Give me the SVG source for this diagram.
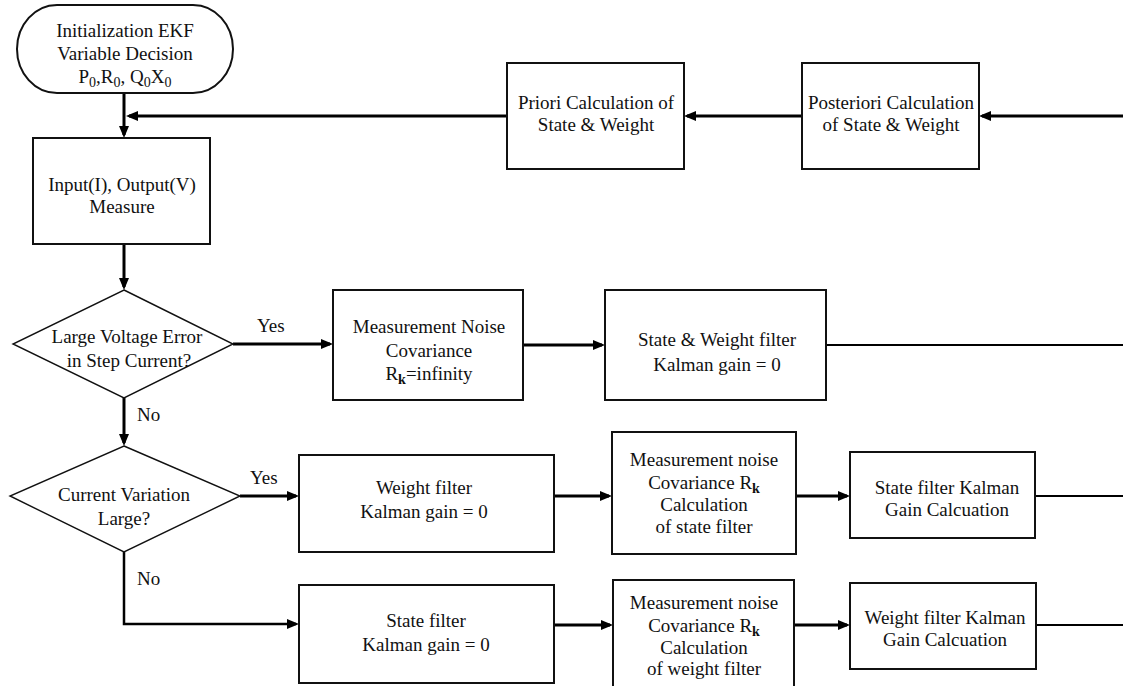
<svg xmlns="http://www.w3.org/2000/svg" width="1123" height="686" viewBox="0 0 1123 686">
<defs>
<marker id="ah" markerUnits="userSpaceOnUse" markerWidth="13" markerHeight="11" refX="9" refY="5" orient="auto">
<path d="M0,0 L12,5 L0,10 z" fill="#000"/>
</marker>
<style>
.bx{fill:#fff;stroke:#111;stroke-width:2}
.dm{fill:#fff;stroke:#111;stroke-width:1.4}
.t{text-anchor:middle}
.c{fill:none;stroke:#000;stroke-width:3}
.tl{fill:none;stroke:#000;stroke-width:1.8}
.s{font-size:14px}
.sb{font-size:14px;font-weight:bold}
</style>
</defs>
<rect width="1123" height="686" fill="#fff"/>

<g font-family="'Liberation Serif', 'Times New Roman', 'DejaVu Serif', serif" font-size="19" fill="#111">
<g id="connectors">
<line class="c" x1="124" y1="93" x2="124" y2="135" marker-end="url(#ah)"/>
<line class="c" x1="507" y1="116" x2="129" y2="116" marker-end="url(#ah)"/>
<line class="c" x1="802" y1="116" x2="687" y2="116" marker-end="url(#ah)"/>
<line class="c" x1="1123" y1="116" x2="982" y2="116" marker-end="url(#ah)"/>
<line class="c" x1="124" y1="244" x2="124" y2="287" marker-end="url(#ah)"/>
<line class="c" x1="233" y1="344" x2="330" y2="344" marker-end="url(#ah)"/>
<line class="c" x1="523" y1="345" x2="602" y2="345" marker-end="url(#ah)"/>
<line class="tl" x1="826" y1="345" x2="1123" y2="345"/>
<line class="c" x1="124" y1="398" x2="124" y2="443" marker-end="url(#ah)"/>
<line class="c" x1="240" y1="496" x2="296" y2="496" marker-end="url(#ah)"/>
<line class="c" x1="554" y1="496" x2="609" y2="496" marker-end="url(#ah)"/>
<line class="c" x1="796" y1="496" x2="847" y2="496" marker-end="url(#ah)"/>
<line class="tl" x1="1035" y1="496" x2="1123" y2="496"/>
<path class="c" d="M124,552 V624 H296" marker-end="url(#ah)" style="stroke-width:2.5"/>
<line class="c" x1="554" y1="625" x2="610" y2="625" marker-end="url(#ah)"/>
<line class="c" x1="794" y1="625" x2="847" y2="625" marker-end="url(#ah)"/>
<line class="tl" x1="1036" y1="625" x2="1123" y2="625"/>
<text x="257" y="332">Yes</text>
<text x="137" y="421">No</text>
<text x="250" y="484">Yes</text>
<text x="137" y="585">No</text>
</g>

<g id="start">
<rect class="bx" x="17" y="5" width="216" height="88" rx="40" ry="44"/>
<text class="t" x="125" y="37">Initialization EKF</text>
<text class="t" x="125" y="60">Variable Decision</text>
<text class="t" x="125" y="83">P<tspan class="s" dy="4">0</tspan><tspan dy="-4">,R</tspan><tspan class="s" dy="4">0</tspan><tspan dy="-4">, Q</tspan><tspan class="s" dy="4">0</tspan><tspan dy="-4">X</tspan><tspan class="s" dy="4">0</tspan></text>
</g>

<g id="priori">
<rect class="bx" x="507" y="63" width="177" height="106"/>
<text class="t" x="596" y="109">Priori Calculation of</text>
<text class="t" x="596" y="131">State &amp; Weight</text>
</g>

<g id="posteriori">
<rect class="bx" x="802" y="63" width="177" height="106"/>
<text class="t" x="891" y="109">Posteriori Calculation</text>
<text class="t" x="891" y="131">of State &amp; Weight</text>
</g>

<g id="measure">
<rect class="bx" x="33" y="138" width="177" height="106"/>
<text class="t" x="122" y="191">Input(I), Output(V)</text>
<text class="t" x="122" y="213">Measure</text>
</g>

<g id="decision1">
<polygon class="dm" points="124,290 233,344 124,398 13,344"/>
<text class="t" x="127" y="343">Large Voltage Error</text>
<text class="t" x="129" y="367">in Step Current?</text>
</g>

<g id="noise-inf">
<rect class="bx" x="333" y="290" width="190" height="110"/>
<text class="t" x="429" y="333">Measurement Noise</text>
<text class="t" x="429" y="357">Covariance</text>
<text class="t" x="429" y="380">R<tspan class="sb" dy="4">k</tspan><tspan dy="-4">=infinity</tspan></text>
</g>

<g id="sw-zero">
<rect class="bx" x="605" y="290" width="221" height="110"/>
<text class="t" x="717" y="346">State &amp; Weight filter</text>
<text class="t" x="717" y="371">Kalman gain = 0</text>
</g>

<g id="decision2">
<polygon class="dm" points="124,446 240,496 124,552 10,496"/>
<text class="t" x="124" y="501">Current Variation</text>
<text class="t" x="124" y="525">Large?</text>
</g>

<g id="weight-zero">
<rect class="bx" x="299" y="455" width="255" height="97"/>
<text class="t" x="424" y="494">Weight filter</text>
<text class="t" x="424" y="518">Kalman gain = 0</text>
</g>

<g id="noise-state">
<rect class="bx" x="612" y="432" width="184" height="122"/>
<text class="t" x="704" y="466">Measurement noise</text>
<text class="t" x="704" y="489">Covariance R<tspan class="sb" dy="4">k</tspan></text>
<text class="t" x="704" y="511">Calculation</text>
<text class="t" x="704" y="533">of state filter</text>
</g>

<g id="state-gain">
<rect class="bx" x="850" y="452" width="185" height="86"/>
<text class="t" x="947" y="494">State filter Kalman</text>
<text class="t" x="947" y="516">Gain Calcuation</text>
</g>

<g id="state-zero">
<rect class="bx" x="299" y="585" width="255" height="98"/>
<text class="t" x="426" y="627">State filter</text>
<text class="t" x="426" y="651">Kalman gain = 0</text>
</g>

<g id="noise-weight">
<rect class="bx" x="613" y="580" width="181" height="112"/>
<text class="t" x="704" y="609">Measurement noise</text>
<text class="t" x="704" y="632">Covariance R<tspan class="sb" dy="4">k</tspan></text>
<text class="t" x="704" y="654">Calculation</text>
<text class="t" x="704" y="675">of weight filter</text>
</g>

<g id="weight-gain">
<rect class="bx" x="850" y="583" width="186" height="86"/>
<text class="t" x="945" y="624">Weight filter Kalman</text>
<text class="t" x="945" y="646">Gain Calcuation</text>
</g>
</g>
</svg>
